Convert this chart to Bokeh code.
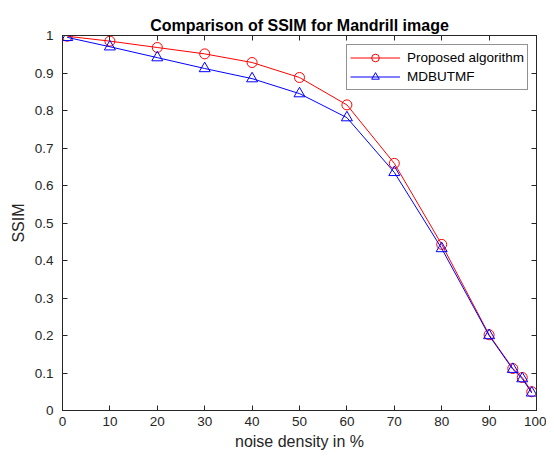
from bokeh.plotting import figure
from bokeh.models import LinearAxis, FixedTicker, Range1d, Legend, LegendItem
from bokeh.embed import file_html
from bokeh.resources import INLINE

noise = [1, 10, 20, 30, 40, 50, 60, 70, 80, 90, 95, 97, 99]
proposed = [0.998, 0.985, 0.968, 0.951, 0.928, 0.888, 0.815, 0.659, 0.443, 0.202, 0.112, 0.088, 0.050]
mdbutmf = [0.995, 0.970, 0.941, 0.912, 0.885, 0.845, 0.781, 0.635, 0.432, 0.200, 0.110, 0.085, 0.047]

x_ticks = [0, 10, 20, 30, 40, 50, 60, 70, 80, 90, 100]
y_ticks = [0, 0.1, 0.2, 0.3, 0.4, 0.5, 0.6, 0.7, 0.8, 0.9, 1]
y_tick_labels = ["0", "0.1", "0.2", "0.3", "0.4", "0.5", "0.6", "0.7", "0.8", "0.9", "1"]

FONT = "Liberation Sans"
AXC = "#262626"

p = figure(output_backend="svg", toolbar_location=None,
           frame_width=474, frame_height=375,
           min_border_left=62, min_border_right=10, min_border_top=35, min_border_bottom=39,
           x_range=Range1d(0, 100), y_range=Range1d(0, 1),
           title="Comparison of SSIM for Mandrill image")
p.background_fill_color = "white"
p.border_fill_color = "white"
p.outline_line_color = AXC
p.outline_line_alpha = 1
p.xgrid.visible = False
p.ygrid.visible = False

p.title.align = "center"
p.title.text_font = FONT
p.title.text_font_size = "16px"
p.title.text_font_style = "bold"
p.title.text_color = "black"
p.title.standoff = 4

def style(ax, labels=True):
    ax.axis_line_color = AXC
    ax.major_tick_line_color = AXC
    ax.major_tick_in = 5
    ax.major_tick_out = 0
    ax.minor_tick_line_color = None
    ax.major_label_text_font = FONT
    ax.major_label_text_color = AXC
    ax.major_label_text_font_size = "13.5px" if labels else "0px"
    ax.axis_label_text_font = FONT
    ax.axis_label_text_color = AXC
    ax.axis_label_text_font_size = "16px"
    ax.axis_label_text_font_style = "normal"

p.xaxis.ticker = FixedTicker(ticks=x_ticks)
p.yaxis.ticker = FixedTicker(ticks=y_ticks)
p.yaxis.major_label_overrides = {t: l for t, l in zip(y_ticks, y_tick_labels)}
p.xaxis.axis_label = "noise density in %"
p.yaxis.axis_label = "SSIM"
style(p.xaxis[0])
style(p.yaxis[0])
p.xaxis.major_label_standoff = 6
p.yaxis.major_label_standoff = 9
p.xaxis.axis_label_standoff = 4
p.yaxis.axis_label_standoff = 5

top = LinearAxis(ticker=FixedTicker(ticks=x_ticks), major_label_standoff=0)
right = LinearAxis(ticker=FixedTicker(ticks=y_ticks), major_label_standoff=0)
style(top, False)
style(right, False)
p.add_layout(top, "above")
p.add_layout(right, "right")

l1 = p.line(noise, proposed, line_color="#ff0000", line_width=1)
s1 = p.scatter(noise, proposed, marker="circle", size=10, line_color="#ff0000",
               fill_color=None, line_width=1)
l2 = p.line(noise, mdbutmf, line_color="#0000ff", line_width=1)
s2 = p.scatter(noise, mdbutmf, marker="triangle", size=11, line_color="#0000ff",
               fill_color=None, line_width=1)

legend = Legend(items=[LegendItem(label="Proposed algorithm", renderers=[l1, s1]),
                       LegendItem(label="MDBUTMF", renderers=[l2, s2])],
                location=(284, 320))
legend.margin = 0
legend.padding = 3
legend.spacing = 0
legend.glyph_width = 50
legend.glyph_height = 19
legend.label_standoff = 7
legend.label_height = 19
legend.label_text_font = FONT
legend.label_text_font_size = "13.5px"
legend.label_text_color = "black"
legend.border_line_color = AXC
legend.border_line_width = 1
legend.background_fill_color = "white"
legend.background_fill_alpha = 1
p.add_layout(legend, "center")

open("out.html", "w").write(file_html(p, INLINE))
